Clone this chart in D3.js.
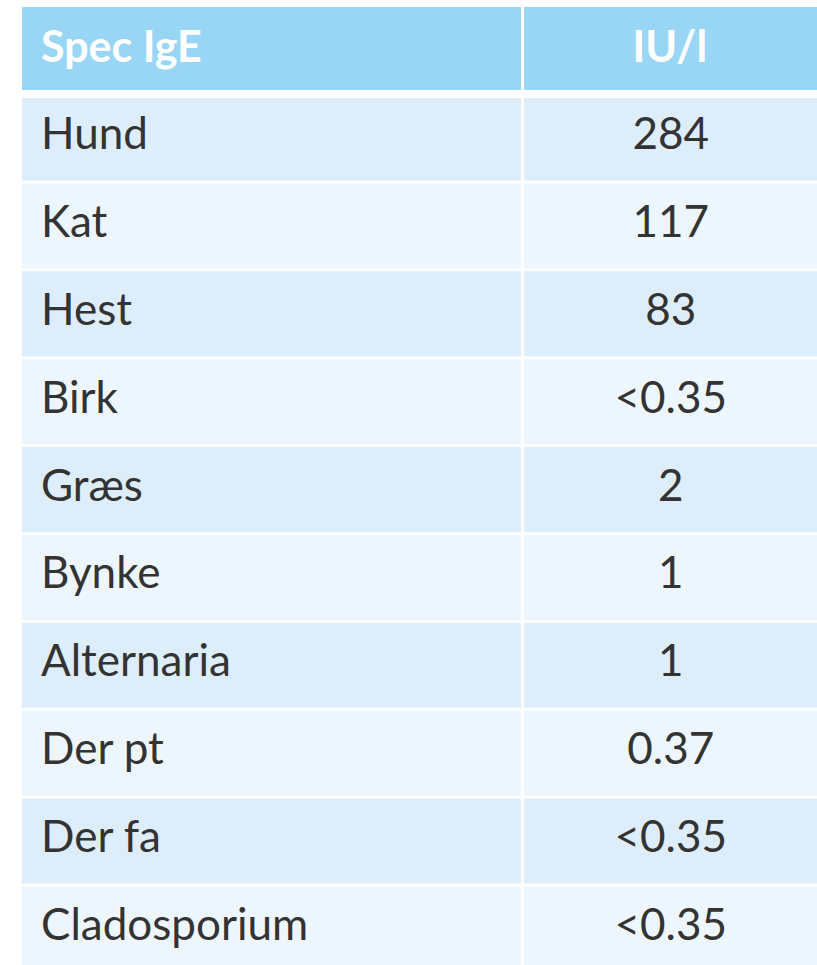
<!DOCTYPE html>
<html>
<head>
<meta charset="utf-8">
<script src="https://cdn.jsdelivr.net/npm/d3@7"></script>
<style>
  body { margin: 0; background: #ffffff; }
</style>
</head>
<body>
<svg id="chart" width="817" height="965"></svg>
<script>
// table contents
var headers = ["Spec IgE", "IU/l"];
var allergens = ["Hund", "Kat", "Hest", "Birk", "Græs", "Bynke", "Alternaria", "Der pt", "Der fa", "Cladosporium"];
var values = ["284", "117", "83", "<0.35", "2", "1", "1", "0.37", "<0.35", "<0.35"];

var svg = d3.select("#chart");

var left = 22, right = 817, colSplit = 522.5;
var headTop = 7, headBottom = 90, bodyTop = 94, rowH = 87.9;

var y = d3.scaleBand()
    .domain(allergens)
    .range([bodyTop, bodyTop + rowH * allergens.length])
    .paddingInner(0);

var font = "Lato, 'Open Sans', sans-serif";

// body rows
var rows = svg.selectAll(".row")
    .data(allergens)
    .enter()
    .append("g")
    .attr("class", "row")
    .attr("transform", function(d){ return "translate(0," + y(d) + ")"; });

rows.append("rect")
    .attr("x", left)
    .attr("y", 0)
    .attr("width", right - left)
    .attr("height", y.bandwidth())
    .attr("fill", function(d, i){ return i % 2 === 0 ? "#ddeefa" : "#eef6fd"; });

// white grid lines
svg.selectAll(".hline")
    .data(allergens.slice(1))
    .enter()
    .append("line")
    .attr("class", "hline")
    .attr("x1", left).attr("x2", right)
    .attr("y1", function(d){ return y(d); })
    .attr("y2", function(d){ return y(d); })
    .attr("stroke", "#ffffff")
    .attr("stroke-width", 3);

// thick gap under header
svg.append("rect")
    .attr("x", left).attr("y", headBottom)
    .attr("width", right - left).attr("height", 8)
    .attr("fill", "#ffffff");

// header
svg.append("rect")
    .attr("x", left).attr("y", headTop)
    .attr("width", right - left).attr("height", headBottom - headTop)
    .attr("fill", "#99d6f5");

svg.append("line")
    .attr("x1", colSplit).attr("x2", colSplit)
    .attr("y1", headTop).attr("y2", 965)
    .attr("stroke", "#ffffff")
    .attr("stroke-width", 3);

svg.selectAll(".headText")
    .data(headers)
    .enter()
    .append("text")
    .attr("class", "headText")
    .attr("x", function(d, i){ return i === 0 ? 41 : (colSplit + right) / 2; })
    .attr("y", 62)
    .attr("text-anchor", function(d, i){ return i === 0 ? "start" : "middle"; })
    .attr("font-family", font)
    .attr("font-weight", "bold")
    .attr("font-size", "43px")
    .attr("fill", "#ffffff")
    .text(function(d){ return d; });

rows.append("text")
    .attr("x", 41)
    .attr("y", y.bandwidth() / 2 + 11)
    .attr("font-family", font)
    .attr("font-size", "44px")
    .attr("fill", "#333333")
    .text(function(d){ return d; });

rows.append("text")
    .attr("x", (colSplit + right) / 2 + 1)
    .attr("y", y.bandwidth() / 2 + 11)
    .attr("text-anchor", "middle")
    .attr("font-family", font)
    .attr("font-size", "44px")
    .attr("fill", "#333333")
    .text(function(d, i){ return values[i]; });
</script>
</body>
</html>
